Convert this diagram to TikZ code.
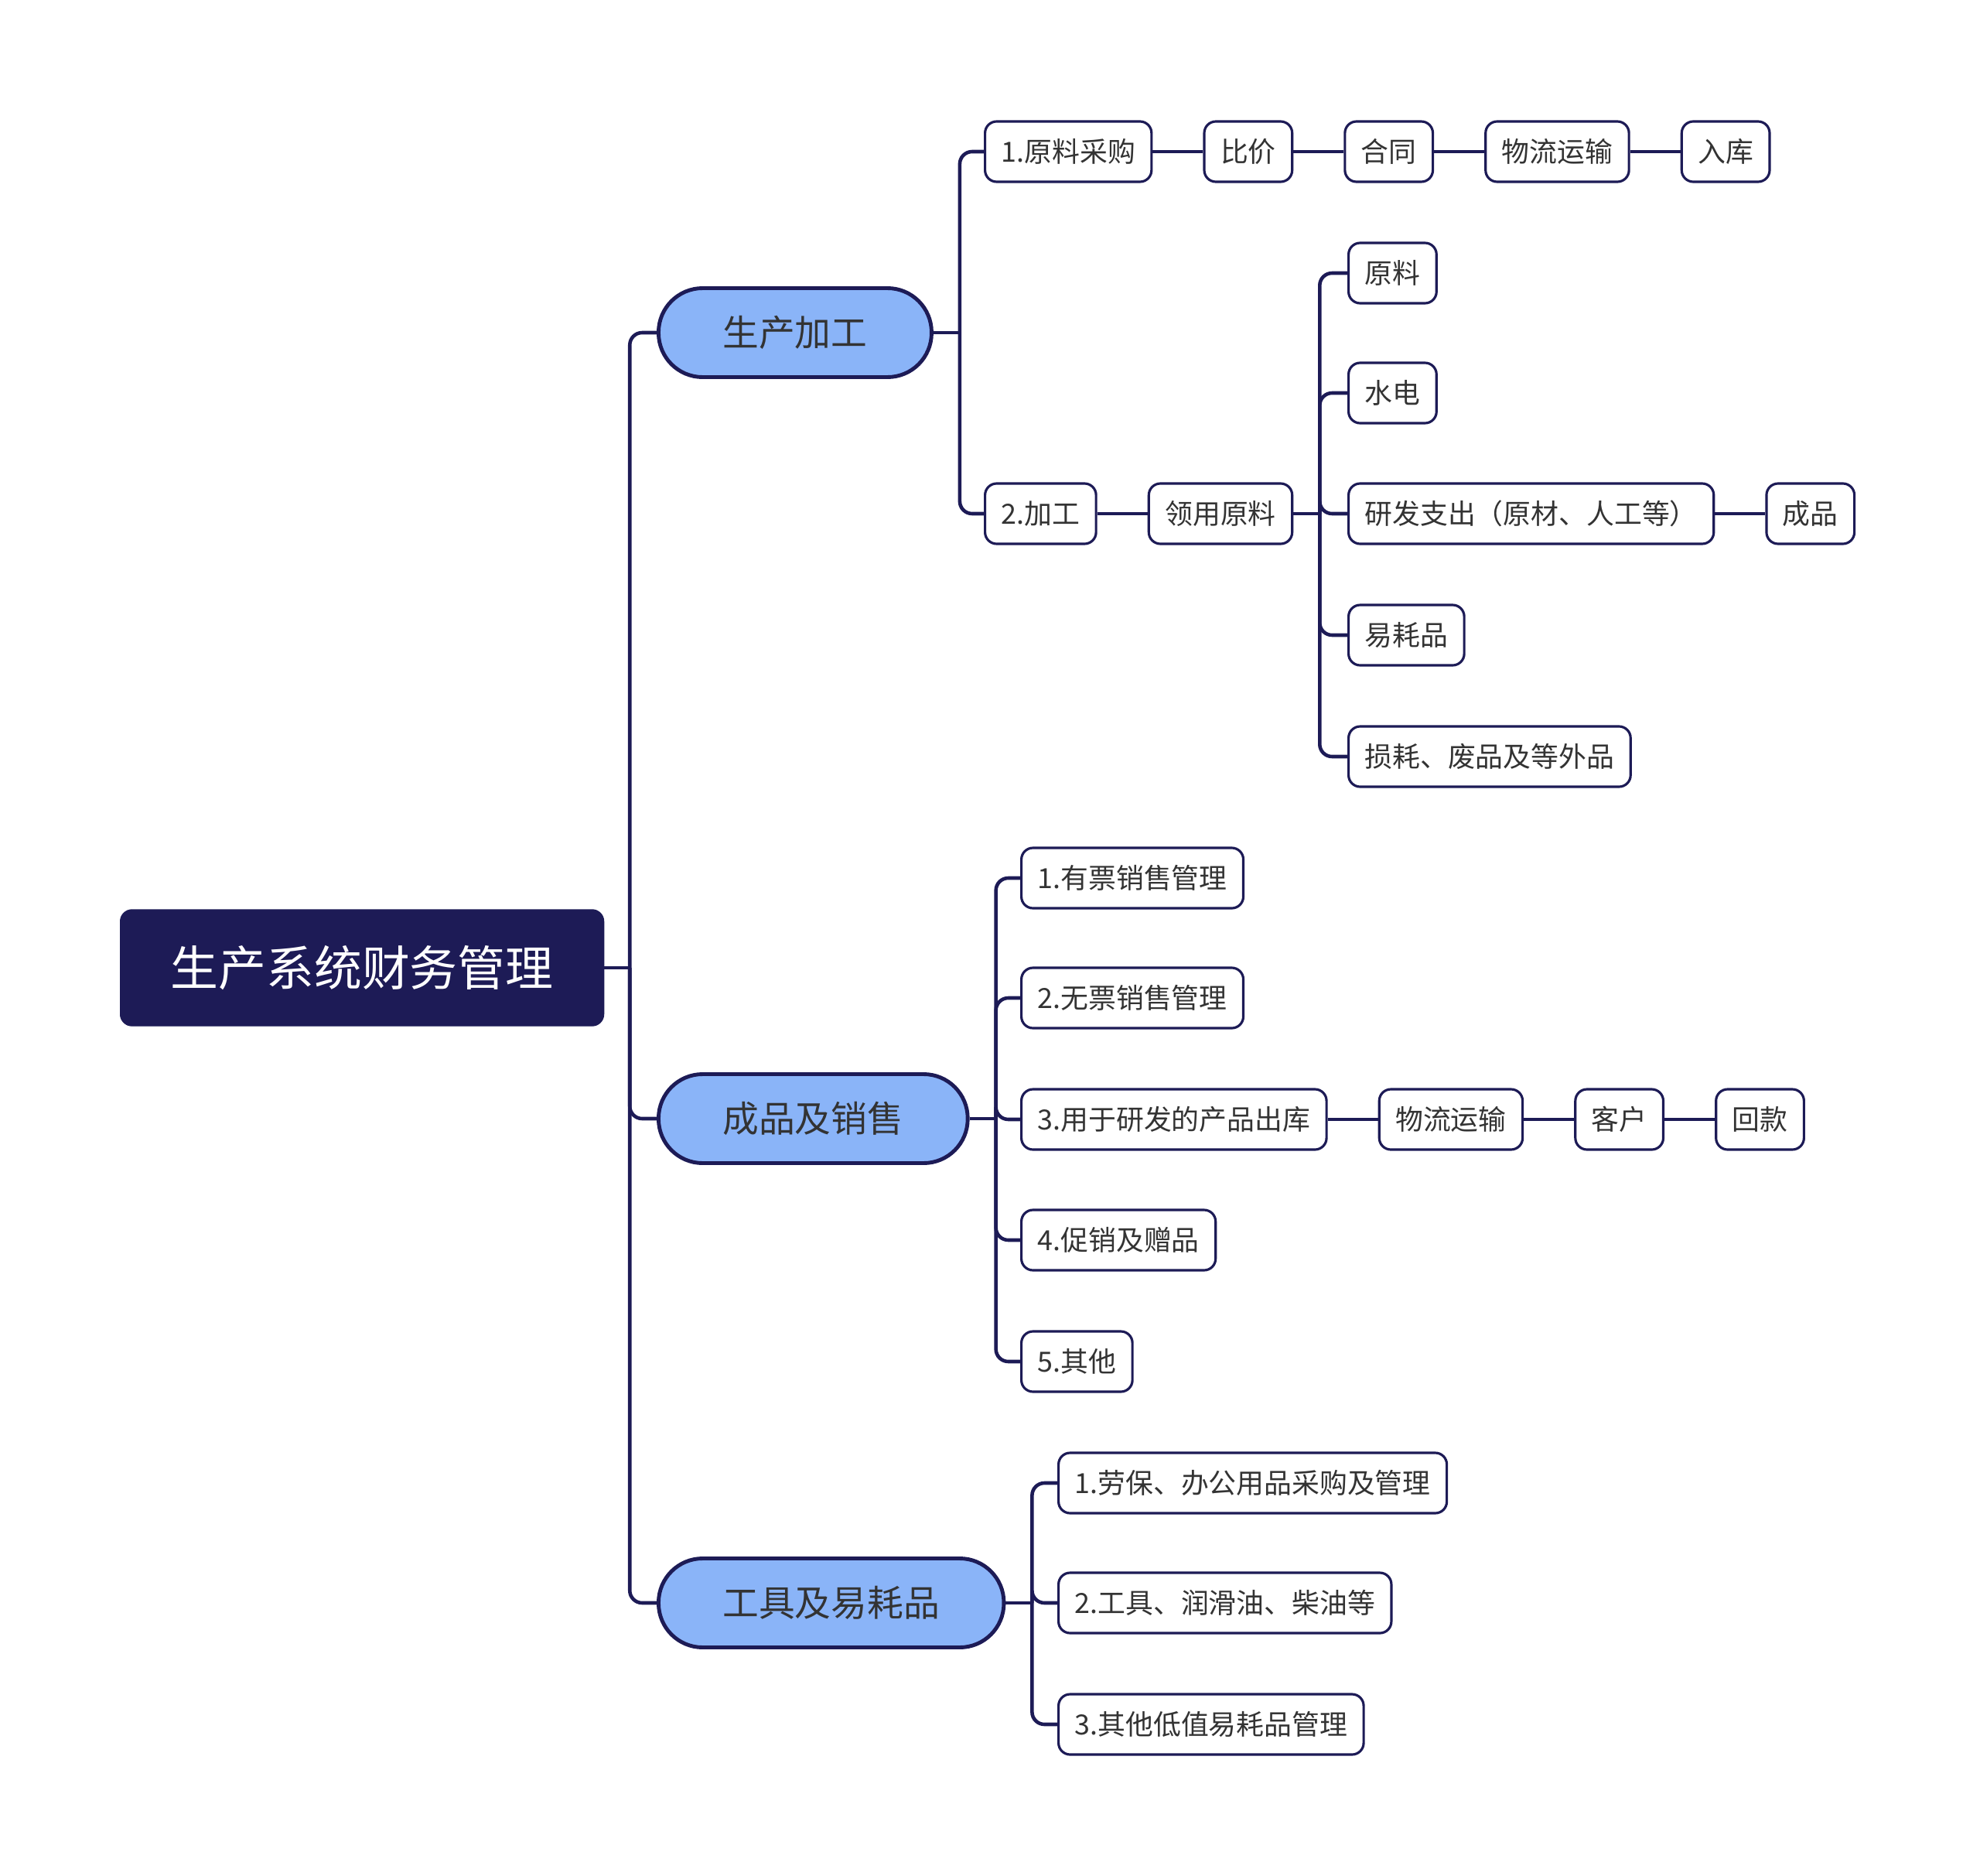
\documentclass[tikz,border=0pt]{standalone}
\usepackage{fontspec}
\setmainfont{Noto Sans CJK SC}
\usetikzlibrary{positioning}

\definecolor{navy}{HTML}{1D1B56}
\definecolor{pillblue}{HTML}{8AB4F8}
\definecolor{ink}{HTML}{333333}

\tikzset{
  link/.style={draw=navy, line width=1.3pt, rounded corners=0.16cm},
  rootbox/.style={rectangle, fill=navy, draw=navy, rounded corners=0.15cm,
    text=white, font=\fontsize{17.6}{21}\selectfont,
    inner xsep=0.65cm, minimum height=1.5cm},
  topic/.style={rectangle, fill=pillblue, draw=navy, line width=1.4pt,
    rounded corners=0.57cm, text=ink, font=\fontsize{13.3}{16}\selectfont,
    inner xsep=0.83cm, minimum height=1.15cm},
  leaf/.style={rectangle, fill=white, draw=navy, line width=0.9pt,
    rounded corners=0.15cm, text=ink, font=\fontsize{10.2}{12}\selectfont,
    inner xsep=0.21cm, minimum height=0.78cm},
  node distance=0.65cm
}

\begin{document}
\begin{tikzpicture}
    \useasboundingbox (0,0) rectangle (25.6,-24.25);

    \node[rootbox, anchor=west] (root) at (1.55,-12.51) {生产系统财务管理};

    \node[topic, anchor=west] (prod) at (8.49,-4.30) {生产加工};
    \node[topic, anchor=west] (sale) at (8.49,-14.46) {成品及销售};
    \node[topic, anchor=west] (tool) at (8.49,-20.72) {工具及易耗品};

    % 生产加工
    \node[leaf, anchor=west] (buy) at (12.72,-1.96) {1.原料采购};
    \node[leaf, right=of buy] (price) {比价};
    \node[leaf, right=of price] (contract) {合同};
    \node[leaf, right=of contract] (logi) {物流运输};
    \node[leaf, right=of logi] (store) {入库};
    \node[leaf, anchor=west] (proc) at (12.72,-6.64) {2.加工};
    \node[leaf, right=of proc] (take) {领用原料};
    \node[leaf, anchor=west] (raw) at (17.42,-3.53) {原料};
    \node[leaf, anchor=west] (power) at (17.42,-5.08) {水电};
    \node[leaf, anchor=west] (rd) at (17.42,-6.64) {研发支出（原材、人工等）};
    \node[leaf, right=of rd] (goods) {成品};
    \node[leaf, anchor=west] (cons) at (17.42,-8.21) {易耗品};
    \node[leaf, anchor=west] (loss) at (17.42,-9.78) {损耗、废品及等外品};

    % 成品及销售
    \node[leaf, anchor=west] (tick) at (13.19,-11.35) {1.有票销售管理};
    \node[leaf, anchor=west] (notick) at (13.19,-12.90) {2.无票销售管理};
    \node[leaf, anchor=west] (rdout) at (13.19,-14.47) {3.用于研发的产品出库};
    \node[leaf, right=of rdout] (ship) {物流运输};
    \node[leaf, right=of ship] (client) {客户};
    \node[leaf, right=of client] (repay) {回款};
    \node[leaf, anchor=west] (promo) at (13.19,-16.03) {4.促销及赠品};
    \node[leaf, anchor=west] (other) at (13.19,-17.60) {5.其他};

    % 工具及易耗品
    \node[leaf, anchor=west] (labor) at (13.67,-19.17) {1.劳保、办公用品采购及管理};
    \node[leaf, anchor=west] (oil) at (13.67,-20.72) {2.工具、润滑油、柴油等};
    \node[leaf, anchor=west] (lowv) at (13.67,-22.29) {3.其他低值易耗品管理};

    % links
    \draw[link] (root.east) -- ++(0.33,0) coordinate (rootfork);
    \foreach \c in {prod,sale,tool}
      \draw[link] (rootfork) |- (\c.west);

    \draw[link] (prod.east) -- ++(0.34,0) coordinate (prodfork);
    \foreach \c in {buy,proc}
      \draw[link] (prodfork) |- (\c.west);
    \draw[link] (buy) -- (price);
    \draw[link] (price) -- (contract);
    \draw[link] (contract) -- (logi);
    \draw[link] (logi) -- (store);
    \draw[link] (proc) -- (take);

    \draw[link] (take.east) -- ++(0.34,0) coordinate (takefork);
    \foreach \c in {raw,power,rd,cons,loss}
      \draw[link] (takefork) |- (\c.west);
    \draw[link] (rd) -- (goods);

    \draw[link] (sale.east) -- ++(0.34,0) coordinate (salefork);
    \foreach \c in {tick,notick,rdout,promo,other}
      \draw[link] (salefork) |- (\c.west);
    \draw[link] (rdout) -- (ship);
    \draw[link] (ship) -- (client);
    \draw[link] (client) -- (repay);

    \draw[link] (tool.east) -- ++(0.34,0) coordinate (toolfork);
    \foreach \c in {labor,oil,lowv}
      \draw[link] (toolfork) |- (\c.west);
\end{tikzpicture}
\end{document}
